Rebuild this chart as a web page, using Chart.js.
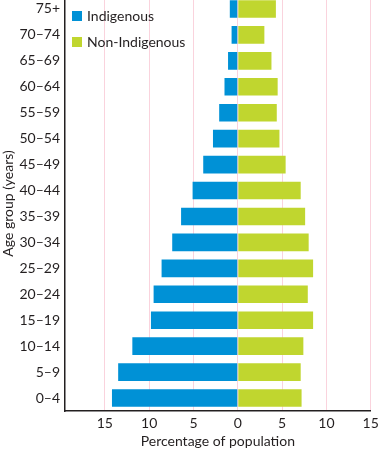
<!DOCTYPE html>
<html>
<head>
<meta charset="utf-8">
<script src="https://cdn.jsdelivr.net/npm/chart.js@4.4.1/dist/chart.umd.min.js"></script>
<style>
  html, body { margin: 0; padding: 0; background: #fff; overflow: hidden; }
  #wrap { position: absolute; left: 0; top: -4px; width: 378px; height: 454px; }
</style>
</head>
<body>
<div id="wrap"><canvas id="chart"></canvas></div>
<script>
const ageGroups = ['75+', '70–74', '65–69', '60–64', '55–59', '50–54', '45–49', '40–44',
    '35–39', '30–34', '25–29', '20–24', '15–19', '10–14', '5–9', '0–4'];
const indigenous = [0.9, 0.7, 1.1, 1.5, 2.1, 2.8, 3.9, 5.1, 6.4, 7.4, 8.6, 9.5, 9.8, 11.9, 13.5, 14.2];
const nonIndigenous = [4.3, 3.0, 3.8, 4.5, 4.4, 4.7, 5.4, 7.1, 7.6, 8.0, 8.5, 7.9, 8.5, 7.4, 7.1, 7.2];
const xTicks = [-15, -10, -5, 0, 5, 10, 15];

const FONT = 'Lato';
const blue = '#0091d6';
const green = '#c0d62f';
const pink = '#fad3dd';

// legend drawn inside the plot, stacked vertically
const innerLegend = {
    id: 'innerLegend',
    afterDraw(chart) {
        const ctx = chart.ctx;
        const left = chart.chartArea.left + 7;
        ctx.save();
        ctx.font = '14px ' + FONT;
        ctx.textBaseline = 'middle';
        chart.data.datasets.forEach((ds, i) => {
            const y = 20 + i * 26;
            ctx.fillStyle = ds.backgroundColor;
            ctx.fillRect(left, y - 5, 10, 10);
            ctx.fillStyle = '#231f20';
            ctx.fillText(ds.label, left + 15, y);
        });
        ctx.restore();
    }
};

new Chart(document.getElementById('chart'), {
    type: 'bar',
    data: {
        labels: ageGroups,
        datasets: [
            { label: 'Indigenous', data: indigenous.map(v => -v), backgroundColor: blue },
            { label: 'Non-Indigenous', data: nonIndigenous, backgroundColor: green }
        ]
    },
    options: {
        indexAxis: 'y',
        responsive: true,
        maintainAspectRatio: false,
        animation: false,
        layout: { padding: { left: 0, right: 7.3, top: 0, bottom: 0 } },
        datasets: { bar: { categoryPercentage: 1, barPercentage: 0.68 } },
        plugins: { legend: { display: false }, tooltip: { enabled: false } },
        scales: {
            x: {
                stacked: true,
                min: -19.5,
                max: 15,
                afterBuildTicks: scale => { scale.ticks = xTicks.map(v => ({ value: v })); },
                afterFit: scale => {
                    scale.height = 39;
                    scale.paddingLeft = 0;
                    scale.paddingRight = 0;
                },
                grid: { color: pink, lineWidth: 1, drawTicks: false },
                border: { color: '#231f20', width: 1.5 },
                ticks: {
                    color: '#231f20', padding: 4,
                    font: { family: FONT, size: 14 },
                    callback: v => Math.abs(v)
                },
                title: {
                    display: true, text: 'Percentage of population', color: '#231f20',
                    font: { family: FONT, size: 14 }, padding: { top: 0, bottom: 0 }
                }
            },
            y: {
                stacked: true,
                afterFit: scale => {
                    scale.width = 65;
                    scale.paddingTop = 0;
                    scale.paddingBottom = 0;
                },
                grid: { display: false, drawTicks: false },
                border: { color: '#231f20', width: 1.5 },
                ticks: {
                    color: '#231f20', padding: 5,
                    font: { family: FONT, size: 14 }
                },
                title: {
                    display: true, text: 'Age group (years)', color: '#231f20',
                    font: { family: FONT, size: 14 }, padding: { top: 0, bottom: 0 }
                }
            }
        }
    },
    plugins: [innerLegend]
});
</script>
</body>
</html>
